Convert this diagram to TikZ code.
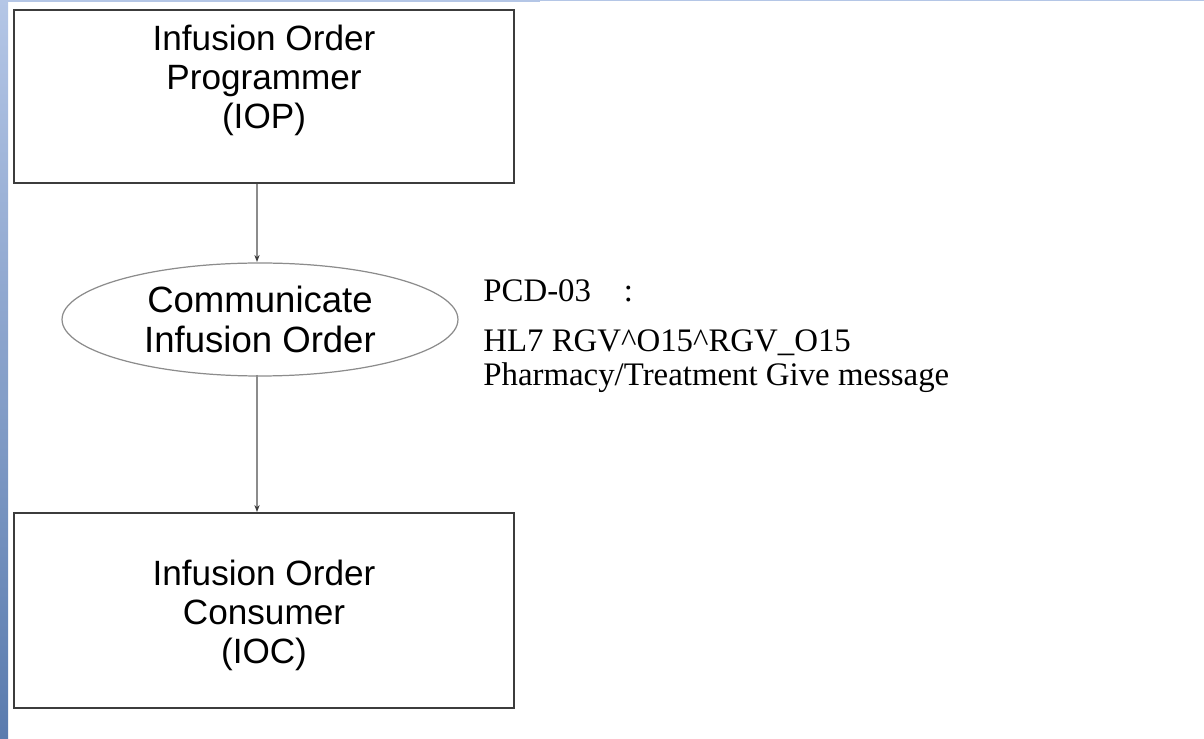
\documentclass[tikz,border=0pt]{standalone}
\usepackage{fontspec}
\setmainfont{Liberation Serif}
\newfontfamily\arialfont{Liberation Sans}
\usetikzlibrary{shapes.geometric, positioning, arrows.meta}

\definecolor{framegray}{HTML}{3C3C3C}
\definecolor{edgegray}{HTML}{8C8C8C}
\definecolor{stripetop}{HTML}{B4C6E6}
\definecolor{stripebot}{HTML}{5A7BAE}

\begin{document}
\begin{tikzpicture}[
x=0.02cm, y=-0.02cm,
    actor/.style={rectangle, draw=framegray, line width=1.1pt, minimum width=10cm},
    actortext/.style={align=center, font=\arialfont\fontsize{20}{22.2}\selectfont},
    transaction/.style={ellipse, draw=edgegray, line width=0.7pt, minimum width=7.92cm, minimum height=2.26cm, inner sep=0pt, align=center, font=\arialfont\fontsize{20.8}{22.5}\selectfont},
    note/.style={anchor=base west, inner xsep=0pt, align=left, font=\fontsize{18.7}{19.9}\selectfont},
    line/.style={draw=edgegray, line width=0.7pt, -{Stealth[length=4pt, width=3pt, color=framegray]}}
]

    % Frame of the page
    \useasboundingbox (0,0) rectangle (1204,739);
    \shade[top color=stripetop, bottom color=stripebot] (0,0) rectangle (8,739);
    \fill[stripetop] (8,0) rectangle (540,2.5);
    \fill[stripetop] (540,0) rectangle (1204,1.3);

    % Actors
    \node[actor, minimum height=3.46cm] (iop) at (264,96.5) {};
    \node[actortext] (ioptext) at (264,80) {Infusion Order\\Programmer\\(IOP)};
    \node[actor, minimum height=3.9cm] (ioc) at (264,610.5) {};
    \node[actortext] (ioctext) at (264,615) {Infusion Order\\Consumer\\(IOC)};

    % Transaction
    \node[transaction] (order) at (260,319.5) {Communicate\\Infusion Order};

    % Transaction description
    \node[note] (pcd) at (483,302) {PCD-03\quad :};
    \node[note] (msg) at (483,386) {HL7 RGV\textasciicircum O15\textasciicircum RGV\_O15\\Pharmacy/Treatment Give message};

    % Message flow
    \draw[line] (iop.south -| 257,0) -- (257,262);
    \draw[line] (257,375) -- (ioc.north -| 257,0);

\end{tikzpicture}
\end{document}
